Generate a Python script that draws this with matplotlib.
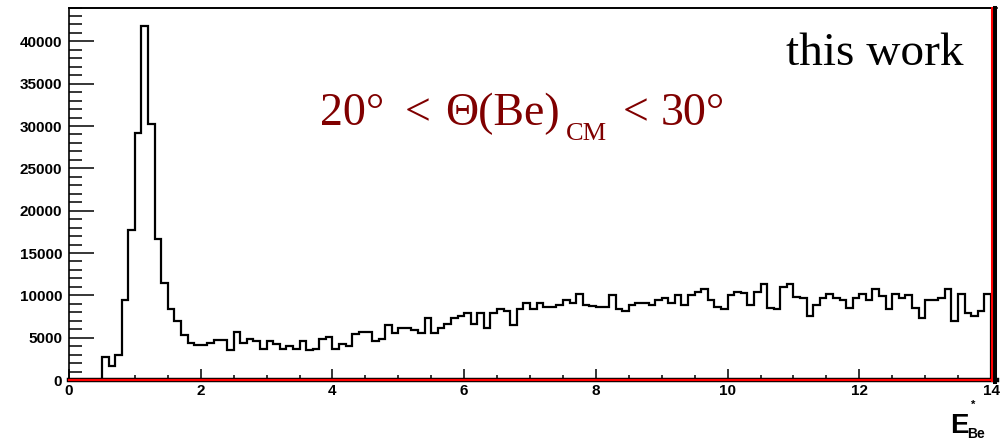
import matplotlib
matplotlib.use('Agg')
import matplotlib.pyplot as plt
import numpy as np
from matplotlib.lines import Line2D
from matplotlib.ticker import MultipleLocator, FixedLocator

# ---------------- data ----------------
bin_low = 0.0
bin_high = 14.0
n_bins = 140

counts = [
    0, 0, 0, 0, 0, 2700, 1600, 3000, 9400, 17700,
    29200, 41800, 30200, 16600, 11500, 8400, 7000, 5300, 4400, 4100,
    4100, 4400, 4700, 4700, 3500, 5700, 4400, 4900, 4600, 3700,
    4600, 4300, 3700, 4000, 3700, 4600, 3500, 3700, 4800, 5100,
    3700, 4300, 4000, 5400, 5700, 5700, 4600, 4800, 6500, 5500,
    6200, 6200, 5900, 5600, 7300, 5600, 6200, 6600, 7300, 7600,
    7900, 6600, 7900, 6100, 7900, 8400, 8100, 6500, 8400, 9100,
    8400, 9100, 8600, 8600, 8900, 9400, 9100, 10200, 8900, 8700,
    8600, 8600, 10000, 8400, 8100, 8900, 9100, 9100, 8900, 9400,
    9700, 9100, 10000, 8900, 10000, 10400, 10800, 9400, 8600, 8400,
    10000, 10400, 10300, 8900, 10400, 11300, 8500, 8400, 11000, 11300,
    9800, 9700, 7600, 8900, 9700, 10200, 9700, 9400, 8500, 9700,
    10200, 9400, 10800, 9900, 8400, 10200, 9700, 10000, 8500, 7300,
    9400, 9400, 9700, 10800, 7000, 10200, 7900, 7600, 8200, 10200,
]

x_ticks = [0, 2, 4, 6, 8, 10, 12, 14]
x_tick_labels = ["0", "2", "4", "6", "8", "10", "12", "14"]
y_ticks = [0, 5000, 10000, 15000, 20000, 25000, 30000, 35000, 40000]
y_tick_labels = ["0", "5000", "10000", "15000", "20000", "25000", "30000", "35000", "40000"]
y_max = 44000

# ---------------- figure ----------------
W, H = 1006, 441
fig = plt.figure(figsize=(W / 100, H / 100), dpi=100)
fig.patch.set_facecolor('white')

def fx(x):
    return x / W

def fy(y):
    return 1 - y / H

ax_l, ax_r, ax_t, ax_b = 69, 991, 7.5, 380
ax = fig.add_axes([fx(ax_l), fy(ax_b), (ax_r - ax_l) / W, (ax_b - ax_t) / H])

edges = np.linspace(bin_low, bin_high, n_bins + 1)
ax.stairs(counts, edges, color='black', lw=1.6, zorder=3)

ax.set_xlim(bin_low, bin_high)
ax.set_ylim(0, y_max)

ax.xaxis.set_major_locator(FixedLocator(x_ticks))
ax.set_xticklabels(x_tick_labels)
ax.xaxis.set_minor_locator(MultipleLocator(0.5))
ax.yaxis.set_major_locator(FixedLocator(y_ticks))
ax.set_yticklabels(y_tick_labels)
ax.yaxis.set_minor_locator(MultipleLocator(1000))

ax.tick_params(axis='x', which='major', direction='in', length=8, width=1.1, pad=3,
               labelsize=11)
ax.tick_params(axis='x', which='minor', direction='in', length=3.6, width=1.1)
ax.tick_params(axis='y', which='major', direction='in', length=18, width=1.1, pad=5,
               labelsize=11)
ax.tick_params(axis='y', which='minor', direction='in', length=9.4, width=1.1)
for lab in ax.get_xticklabels() + ax.get_yticklabels():
    lab.set_fontfamily('Liberation Sans')
    lab.set_fontweight('bold')

for s in ['bottom', 'right']:
    ax.spines[s].set_visible(False)
for s in ['top', 'left']:
    ax.spines[s].set_color('black')
    ax.spines[s].set_linewidth(1.2)

# frame decorations (ROOT-like coloured axis lines)
fig.add_artist(Line2D([fx(ax_l), fx(997)], [fy(ax_t), fy(ax_t)], transform=fig.transFigure,
                      color='black', lw=1.2))
fig.add_artist(Line2D([fx(ax_l), fx(997)], [fy(380), fy(380)], transform=fig.transFigure,
                      color='black', lw=3.2, zorder=10))
fig.add_artist(Line2D([fx(ax_l), fx(991)], [fy(380), fy(380)], transform=fig.transFigure,
                      color='#ff0000', lw=1.6, zorder=11))
fig.add_artist(Line2D([fx(995), fx(995)], [fy(381.5), fy(ax_t)], transform=fig.transFigure,
                      color='black', lw=2.9, zorder=10))
fig.add_artist(Line2D([fx(991.5), fx(991.5)], [fy(381), fy(ax_t + 0.5)], transform=fig.transFigure,
                      color='#ff0000', lw=1.5, zorder=11))

# ---------------- texts ----------------
fig.text(fx(786), fy(65), 'this work', fontsize=34, family='Liberation Serif',
         ha='left', va='baseline', color='black')

red = '#800000'
base = 125
pieces = [
    (320, '20°', 33),
    (405, '<', 33),
    (445, 'Θ(Be)', 33),
    (566, 'CM', 19),
    (623, '<', 33),
    (661, '30°', 33),
]
for x, s, size in pieces:
    yb = base if s != 'CM' else 140
    fig.text(fx(x), fy(yb), s, fontsize=size, family='Liberation Serif',
             ha='left', va='baseline', color=red)

fig.text(fx(950), fy(433), 'E', fontsize=20, family='Liberation Sans', weight='bold',
         ha='left', va='baseline')
fig.text(fx(967), fy(438), 'Be', fontsize=10, family='Liberation Sans', weight='bold',
         ha='left', va='baseline')
fig.text(fx(971), fy(408), '*', fontsize=8, family='Liberation Sans', weight='bold',
         ha='left', va='baseline')

fig.savefig('out.png', dpi=100, facecolor='white')
